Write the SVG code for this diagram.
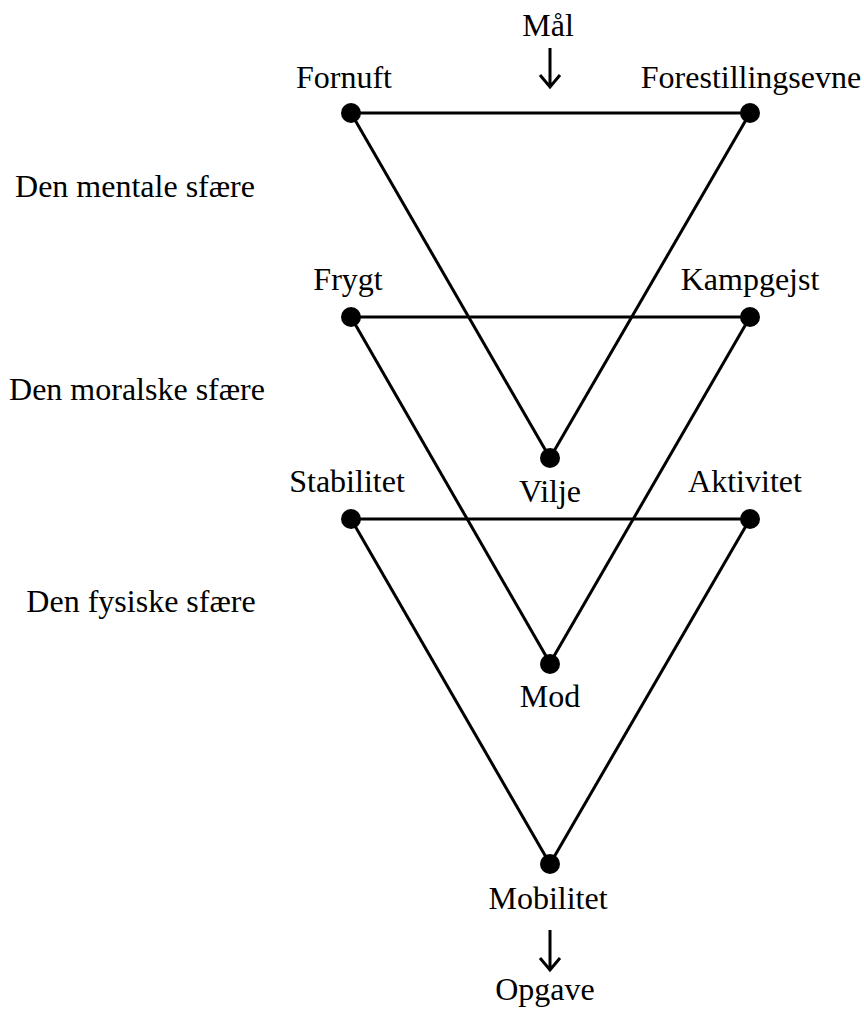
<svg xmlns="http://www.w3.org/2000/svg" width="864" height="1009" viewBox="0 0 864 1009">
<style>
text{font-family:"Liberation Serif","Times New Roman","DejaVu Serif",serif;font-size:32px;fill:#000;text-anchor:middle}
.ln{stroke:#000;stroke-width:3;fill:none}
.dot{fill:#000}
.ar{stroke:#000;stroke-width:3;fill:none}
</style>
<rect width="864" height="1009" fill="#fff"/>
<g id="connectors">
<line class="ln" x1="351" y1="113" x2="750" y2="113"/>
<line class="ln" x1="351" y1="113" x2="550" y2="458"/>
<line class="ln" x1="750" y1="113" x2="550" y2="458"/>
<line class="ln" x1="351" y1="317" x2="750" y2="317"/>
<line class="ln" x1="351" y1="317" x2="550" y2="663"/>
<line class="ln" x1="750" y1="317" x2="550" y2="663"/>
<line class="ln" x1="351" y1="519" x2="750" y2="519"/>
<line class="ln" x1="351" y1="519" x2="550" y2="864"/>
<line class="ln" x1="750" y1="519" x2="550" y2="864"/>
<path class="ar" d="M550 48 V87 M540 75 L550 87 L560 75"/>
<path class="ar" d="M550 930 V970 M540 958 L550 970 L560 958"/>
</g>
<g id="goal"><text x="548" y="36">Mål</text></g>
<g id="fornuft"><circle class="dot" cx="351" cy="113" r="10"/><text x="344" y="88">Fornuft</text></g>
<g id="forestillingsevne"><circle class="dot" cx="750" cy="113" r="10"/><text x="751" y="88">Forestillingsevne</text></g>
<g id="vilje"><circle class="dot" cx="550" cy="458" r="10"/><text x="550" y="502">Vilje</text></g>
<g id="frygt"><circle class="dot" cx="351" cy="317" r="10"/><text x="348" y="290">Frygt</text></g>
<g id="kampgejst"><circle class="dot" cx="750" cy="317" r="10"/><text x="750" y="290">Kampgejst</text></g>
<g id="mod"><circle class="dot" cx="550" cy="664" r="10"/><text x="550" y="707">Mod</text></g>
<g id="stabilitet"><circle class="dot" cx="351" cy="519" r="10"/><text x="347" y="492">Stabilitet</text></g>
<g id="aktivitet"><circle class="dot" cx="750" cy="519" r="10"/><text x="745" y="492">Aktivitet</text></g>
<g id="mobilitet"><circle class="dot" cx="550" cy="864" r="10"/><text x="548" y="909">Mobilitet</text></g>
<g id="opgave"><text x="545" y="1000">Opgave</text></g>
<g id="spheres">
<text x="135" y="197">Den mentale sfære</text>
<text x="137" y="400">Den moralske sfære</text>
<text x="141" y="612">Den fysiske sfære</text>
</g>
</svg>
